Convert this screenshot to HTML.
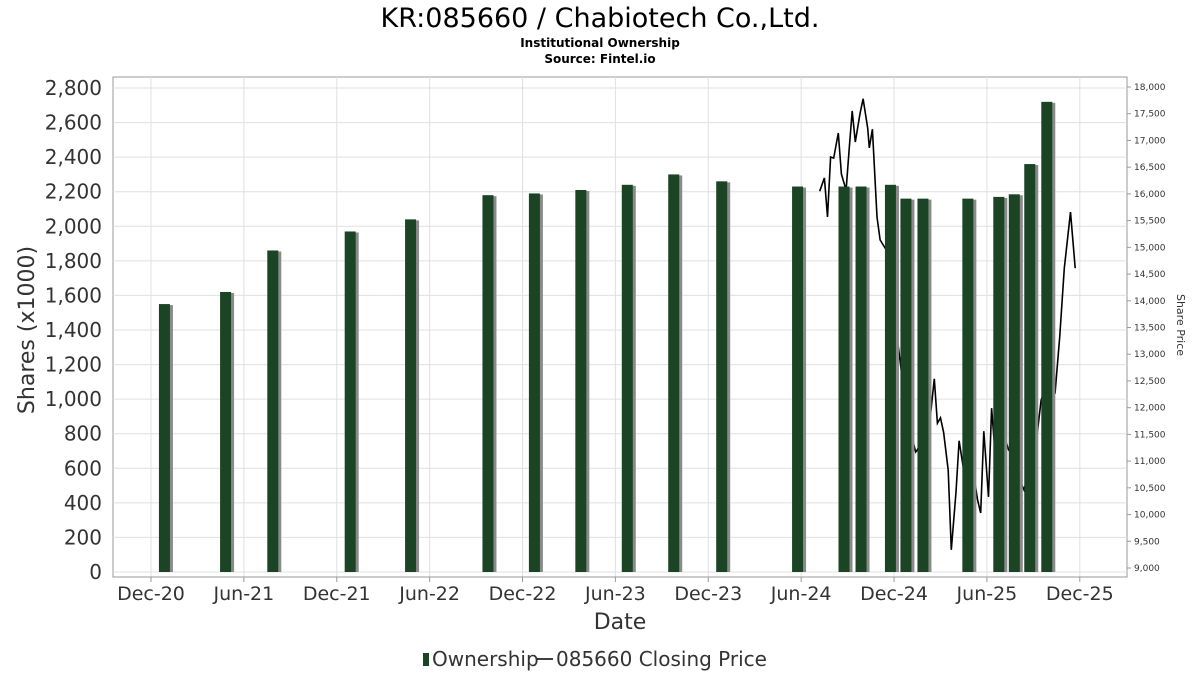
<!DOCTYPE html>
<html><head><meta charset="utf-8"><style>
body{margin:0;background:#fff;}
svg{display:block;font-family:"DejaVu Sans","Liberation Sans",sans-serif;}
</style></head><body>
<svg id="chart" width="1200" height="675" viewBox="0 0 1200 675">
<text x="600" y="27" text-anchor="middle" font-size="27" fill="#000">KR:085660 / Chabiotech Co.,Ltd.</text>
<text x="600" y="47" text-anchor="middle" font-size="12" font-weight="bold">Institutional Ownership</text>
<text x="600" y="63" text-anchor="middle" font-size="12" font-weight="bold">Source: Fintel.io</text>
<rect x="113" y="77" width="1014" height="500" fill="#fff" stroke="#999"/>
<g id="grid"></g><g id="price"></g><g id="bars"></g><g id="axes"></g>
<text transform="translate(34,330) rotate(-90)" text-anchor="middle" font-size="22" fill="#333">Shares (x1000)</text>
<text transform="translate(1177,325) rotate(90)" text-anchor="middle" font-size="11" fill="#333">Share Price</text>
<text x="620" y="629" text-anchor="middle" font-size="22" fill="#333">Date</text>
<g>
<rect x="423" y="653" width="6" height="13" fill="#1a4424"/>
<text x="432" y="666" font-size="20" fill="#333">Ownership</text>
<line x1="537" y1="659" x2="553" y2="659" stroke="#000" stroke-width="1.5"/>
<text x="556" y="666" font-size="20" fill="#333">085660 Closing Price</text>
</g>
</svg>
<script>
const xTickLabels=["Dec-20","Jun-21","Dec-21","Jun-22","Dec-22","Jun-23","Dec-23","Jun-24","Dec-24","Jun-25","Dec-25"];
const yTicks=[0,200,400,600,800,1000,1200,1400,1600,1800,2000,2200,2400,2600,2800];
const y2Ticks=[9000,9500,10000,10500,11000,11500,12000,12500,13000,13500,14000,14500,15000,15500,16000,16500,17000,17500,18000];
// months since Dec-2020
const barMonths=[0.9,4.85,7.9,12.9,16.8,21.8,24.8,27.8,30.8,33.8,36.9,41.8,44.8,45.9,47.8,48.8,49.9,52.8,54.8,55.8,56.8,57.9];
const barValues=[1550,1620,1860,1970,2040,2180,2190,2210,2240,2300,2260,2230,2230,2230,2240,2160,2160,2160,2170,2185,2360,2720];
const priceMonths=[43.2,43.5,43.7,43.9,44.1,44.4,44.6,44.9,45.1,45.3,45.5,45.8,46.0,46.3,46.4,46.6,46.9,47.1,47.5,47.6,47.9,48.3,48.7,49.2,49.4,49.5,50.0,50.3,50.6,50.8,51.0,51.2,51.5,51.7,52.0,52.2,52.5,52.9,53.2,53.4,53.6,53.8,54.1,54.3,54.5,55.0,55.4,55.6,56.1,56.4,56.7,57.0,57.2,57.5,57.8,58.1,58.4,58.7,59.0,59.4,59.7];
const priceValues=[16050,16300,15570,16690,16670,17140,16370,16070,16820,17550,16970,17500,17780,17230,16860,17210,15570,15140,14950,14730,14010,13080,12140,11400,11170,11210,11500,11710,12540,11710,11810,11540,10830,9340,10420,11380,10830,10460,10650,10270,10030,11560,10330,11990,11250,11580,11210,11250,10650,10460,10830,11100,11400,12140,12370,13320,12260,13320,14610,15660,14610];
const NS="http://www.w3.org/2000/svg";
const X=m=>151+m*15.48;
const Y=v=>572-v*(484/2800);
const Y2=v=>87+(18000-v)*(481/9000);
function mk(tag,attrs,parent,txt){const e=document.createElementNS(NS,tag);for(const k in attrs)e.setAttribute(k,attrs[k]);if(txt!==undefined)e.textContent=txt;parent.appendChild(e);return e;}
const grid=document.getElementById('grid'),axes=document.getElementById('axes');
yTicks.forEach(v=>{
  const l=mk('line',{x1:113,x2:1127,y1:Y(v),y2:Y(v),stroke:'#e0e0e0'},grid);
  
  
  const t=mk('text',{x:102,y:Y(v)+7,'text-anchor':'end','font-size':20,fill:'#333'},axes,v.toLocaleString('en-US'));
  
  
});
y2Ticks.forEach(v=>{
  const t=mk('text',{x:1134,y:Y2(v)+3,'font-size':9,fill:'#333'},axes,v.toLocaleString('en-US'));
  
  
  mk('line',{x1:1127,x2:1131,y1:Y2(v),y2:Y2(v),stroke:'#999'},axes);
});
xTickLabels.forEach((s,i)=>{
  const x=X(i*6);
  const l=mk('line',{x1:x,x2:x,y1:77,y2:577,stroke:'#e0e0e0'},grid);
  
  
  mk('line',{x1:x,x2:x,y1:577,y2:582,stroke:'#999'},axes);
  const t=mk('text',{x:x,y:600,'text-anchor':'middle','font-size':19,fill:'#333'},axes,s);
  
  
});
const pg=document.getElementById('price');
const pts=priceMonths.map((m,i)=>X(m).toFixed(1)+','+Y2(priceValues[i]).toFixed(1)).join(' ');
const pl=mk('polyline',{points:pts,fill:'none',stroke:'#000','stroke-width':1.6},pg);


const bg=document.getElementById('bars');
barMonths.forEach((m,i)=>{
  const cx=X(m),top=Y(barValues[i]);
  mk('rect',{x:cx-3,y:top+1,width:11,height:572-top-1,fill:'#8a8a8a'},bg);
  const r=mk('rect',{x:cx-6,y:top,width:11,height:572-top,fill:'#1a4424'},bg);
  
  
});
mk('line',{x1:113,x2:1127,y1:577,y2:577,stroke:'#999'},axes);
</script>
</body></html>
